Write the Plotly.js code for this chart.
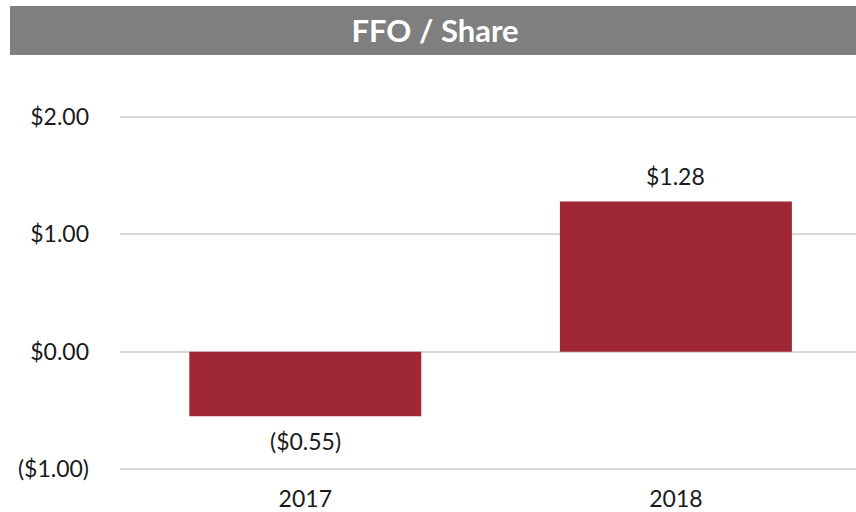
<!DOCTYPE html>
<html><head><meta charset="utf-8">
<script src="https://cdn.plot.ly/plotly-3.0.1.min.js"></script>
<style>html,body{margin:0;padding:0;background:#fff}#c{width:856px;height:512px}</style>
</head><body><div id="c"></div>
<script>
const categories = ['2017', '2018'];
const ffoPerShare = [-0.55, 1.28];
const yTickVals = [-1, 0, 1, 2];
const yTickText = ['($1.00)', '$0.00', '$1.00', '$2.00'];

function fmt(v){ const s='$'+Math.abs(v).toFixed(2); return v<0?'('+s+')':s; }

const font = 'Lato, "Open Sans", sans-serif';
const trace = {
  type:'bar', x:categories, y:ffoPerShare,
  marker:{color:'#a02836'},
  hoverinfo:'none'
};
const labelAnnotations = ffoPerShare.map((v,i)=>({
  x:i, y:v, xref:'x', yref:'y', text:fmt(v), showarrow:false,
  xanchor:'center', yanchor: v<0?'top':'bottom', yshift: v<0?-9:9,
  font:{family:font, size:23, color:'#1a1a1a'}
}));
const layout = {
  width:856, height:512,
  margin:{l:120, r:0, t:115, b:41},
  paper_bgcolor:'#fff', plot_bgcolor:'#fff',
  bargap:0.374,
  showlegend:false,
  font:{family:font, color:'#1a1a1a'},
  title:{text:'<b>FFO / Share</b>', font:{family:font, size:31, color:'#fff'},
    x:435/856, xref:'container', xanchor:'center', y:1-31/512, yref:'container', yanchor:'middle'},
  shapes:[{type:'rect', xref:'paper', yref:'paper',
    x0:(10-120)/736, x1:1, y0:(471-55)/356, y1:(471-6)/356,
    fillcolor:'#7f7f7f', line:{width:0}, layer:'below'}],
  annotations: labelAnnotations,
  xaxis:{type:'category', range:[-0.5, 1.486], showgrid:false, zeroline:false, showline:false,
    ticks:'', tickfont:{family:font, size:23, color:'#1a1a1a'}, ticklabelstandoff:12, fixedrange:true},
  yaxis:{range:[-1.017, 2.017], tickvals:yTickVals, ticktext:yTickText, showgrid:true, gridcolor:'#d9d9d9', gridwidth:2,
    zeroline:true, zerolinecolor:'#d9d9d9', zerolinewidth:2, showline:false, ticks:'',
    tickfont:{family:font, size:23, color:'#1a1a1a'}, ticklabelstandoff:30, fixedrange:true}
};
Plotly.newPlot('c', [trace], layout, {displayModeBar:false, staticPlot:true});
</script></body></html>
